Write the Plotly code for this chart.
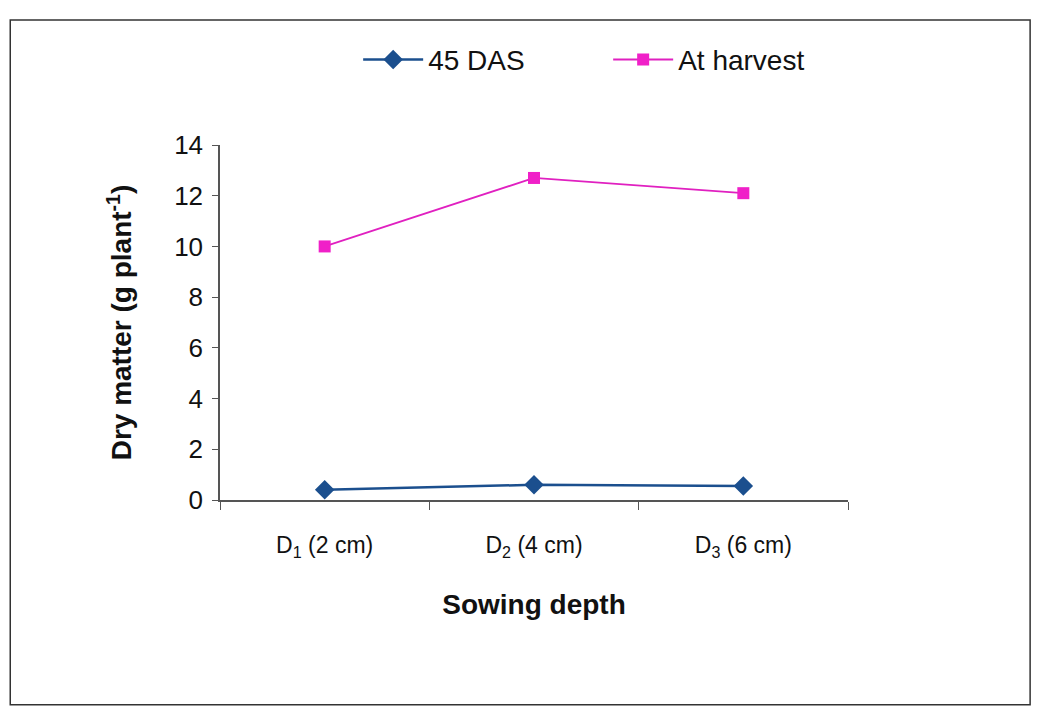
import plotly.graph_objects as go

categories = ["D<sub>1</sub> (2 cm)", "D<sub>2</sub> (4 cm)", "D<sub>3</sub> (6 cm)"]
das45 = [0.4, 0.6, 0.55]
harvest = [10.0, 12.7, 12.1]
y_ticks = [0, 2, 4, 6, 8, 10, 12, 14]

xpos = list(range(1, len(categories) + 1))
font_family = "Liberation Sans, Arial, sans-serif"

fig = go.Figure()
fig.add_trace(go.Scatter(
    x=xpos, y=das45, mode="lines+markers", name="45 DAS",
    line=dict(color="#1b4f8e", width=2.5),
    marker=dict(symbol="diamond", size=15, color="#1b4f8e"),
))
fig.add_trace(go.Scatter(
    x=xpos, y=harvest, mode="lines+markers", name="At harvest",
    line=dict(color="#e020c0", width=1.8),
    marker=dict(symbol="square", size=12, color="#f020c8"),
))

fig.update_layout(
    width=1040, height=713,
    margin=dict(l=220, r=192, t=145, b=213),
    paper_bgcolor="white", plot_bgcolor="white",
    font=dict(family=font_family, color="#111111"),
    showlegend=True,
    legend=dict(orientation="h", x=0.22, xanchor="left", y=1.24, yanchor="middle",
                font=dict(size=28), itemwidth=60, entrywidthmode="pixels", entrywidth=175,
                bgcolor="rgba(0,0,0,0)"),
    xaxis=dict(
        range=[0.5, 3.5], tickmode="array", tickvals=xpos, ticktext=categories,
        ticks="", showgrid=False, zeroline=False,
        showline=True, linecolor="#555555", linewidth=1.5,
        tickfont=dict(size=23), ticklabelstandoff=24,
        minor=dict(tickmode="array", tickvals=[0.5, 1.5, 2.5, 3.5], ticks="outside",
                   ticklen=8, tickcolor="#555555", showgrid=False),
        title=dict(text="<b>Sowing depth</b>", font=dict(size=28), standoff=34),
    ),
    yaxis=dict(
        range=[0, 14], tickmode="array", tickvals=y_ticks,
        ticks="outside", ticklen=6, tickcolor="#555555",
        showgrid=False, zeroline=False,
        showline=True, linecolor="#555555", linewidth=1.5,
        tickfont=dict(size=26), ticklabelstandoff=4,
        title=dict(text="<b>Dry matter (g plant<sup>-1</sup>)</b>", font=dict(size=28), standoff=34),
    ),
    shapes=[dict(type="rect", xref="paper", yref="paper",
                 x0=-0.334, x1=1.29, y0=-0.577, y1=1.352,
                 line=dict(color="#333333", width=1.5))],
)

fig.write_html("out.html")
